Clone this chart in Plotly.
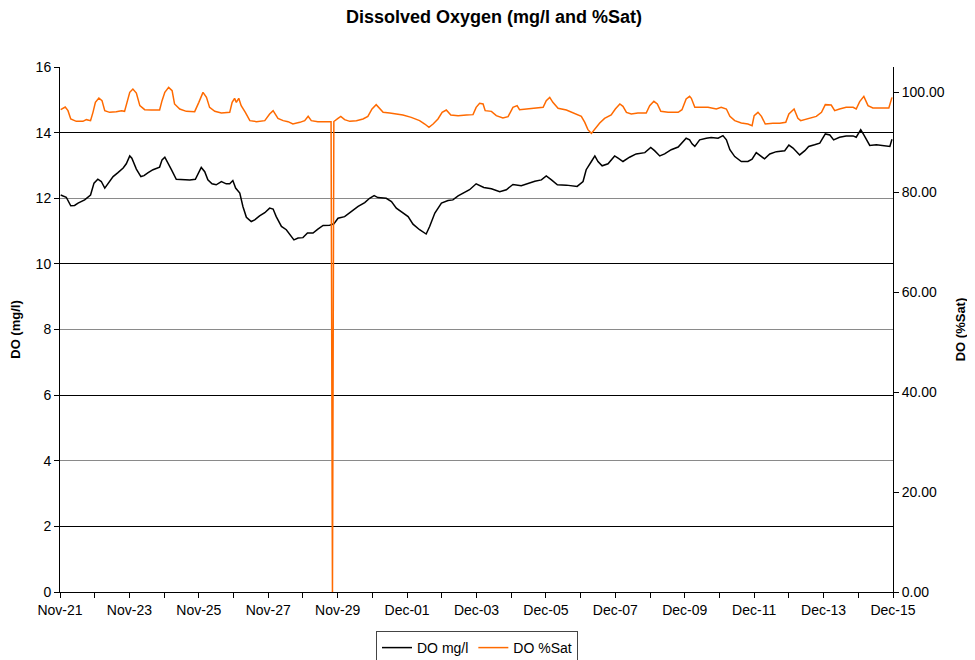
import pandas as pd
import plotly.graph_objects as go

start = pd.Timestamp("2010-11-21")

# DO mg/l : time in days since Nov-21, value
mg_days = [0.02, 0.18, 0.31, 0.42, 0.52, 0.71, 0.88, 0.98, 1.09, 1.19, 1.29, 1.38, 1.53, 1.67, 1.82, 1.91,
           2.01, 2.07, 2.20, 2.33, 2.42, 2.54, 2.68, 2.87, 2.94, 3.02, 3.11, 3.21, 3.35, 3.54, 3.74, 3.90,
           3.98, 4.07, 4.17, 4.26, 4.38, 4.50, 4.65, 4.79, 4.89, 4.98, 5.06, 5.18, 5.27, 5.37, 5.51, 5.61,
           5.75, 5.90, 6.04, 6.14, 6.23, 6.38, 6.52, 6.62, 6.74, 6.86, 7.00, 7.13, 7.29, 7.43, 7.58, 7.77,
           7.89, 8.01, 8.20, 8.39, 8.59, 8.78, 8.92, 9.05, 9.16, 9.40, 9.55, 9.69, 9.88, 10.03, 10.17, 10.36,
           10.55, 10.65, 10.80, 10.99, 11.18, 11.32, 11.47, 11.66, 11.80, 11.99, 12.21, 12.43, 12.67, 12.86,
           13.05, 13.29, 13.48, 13.68, 13.87, 14.01, 14.16, 14.33, 14.59, 14.90, 15.07, 15.16, 15.31, 15.41,
           15.50, 15.62, 15.79, 15.98, 16.08, 16.22, 16.41, 16.60, 16.85, 17.02, 17.13, 17.28, 17.42, 17.61,
           17.81, 17.92, 18.04, 18.14, 18.21, 18.29, 18.43, 18.62, 18.76, 18.96, 19.10, 19.20, 19.30, 19.44,
           19.63, 19.82, 19.94, 20.06, 20.16, 20.30, 20.45, 20.64, 20.88, 21.00, 21.12, 21.31, 21.46, 21.57,
           21.74, 21.89, 22.05, 22.18, 22.29, 22.46, 22.65, 22.85, 22.94, 23.07, 23.16, 23.33, 23.52, 23.71,
           23.91, 23.97]
mg_vals = [12.10, 12.03, 11.77, 11.78, 11.85, 11.95, 12.10, 12.46, 12.58, 12.51, 12.31, 12.44, 12.66, 12.78, 12.92, 13.05,
           13.29, 13.22, 12.89, 12.66, 12.69, 12.78, 12.87, 12.95, 13.17, 13.25, 13.09, 12.87, 12.58, 12.56, 12.56, 12.58,
           12.76, 12.94, 12.81, 12.56, 12.44, 12.41, 12.51, 12.44, 12.44, 12.54, 12.31, 12.16, 11.75, 11.42, 11.29, 11.34,
           11.46, 11.56, 11.70, 11.67, 11.44, 11.14, 11.04, 10.91, 10.73, 10.79, 10.80, 10.94, 10.94, 11.06, 11.17, 11.18,
           11.22, 11.39, 11.44, 11.59, 11.75, 11.87, 12.00, 12.08, 12.02, 12.00, 11.90, 11.70, 11.56, 11.44, 11.21, 11.04,
           10.91, 11.14, 11.55, 11.85, 11.93, 11.95, 12.07, 12.17, 12.26, 12.44, 12.33, 12.29, 12.20, 12.26,
           12.42, 12.38, 12.46, 12.52, 12.56, 12.68, 12.56, 12.41, 12.40, 12.36, 12.51, 12.87, 13.12, 13.29,
           13.12, 12.99, 13.05, 13.29, 13.22, 13.12, 13.25, 13.35, 13.39, 13.55, 13.45, 13.29, 13.35, 13.48,
           13.56, 13.68, 13.83, 13.78, 13.66, 13.58, 13.78, 13.83, 13.85, 13.83, 13.91, 13.78, 13.48, 13.27,
           13.12, 13.12, 13.19, 13.39, 13.32, 13.20, 13.35, 13.42, 13.45, 13.62, 13.53, 13.32, 13.45, 13.58,
           13.63, 13.68, 13.96, 13.93, 13.78, 13.86, 13.90, 13.90, 13.86, 14.09, 13.93, 13.61, 13.63, 13.60,
           13.58, 13.80]

# DO %Sat : time in days since Nov-21, value
sat_days = [0.02, 0.15, 0.23, 0.31, 0.47, 0.66, 0.76, 0.88, 0.95, 1.02, 1.12, 1.21, 1.29, 1.43, 1.62, 1.77,
            1.86, 1.94, 2.01, 2.10, 2.20, 2.30, 2.44, 2.63, 2.87, 2.94, 3.02, 3.13, 3.23, 3.30, 3.45, 3.64,
            3.88, 4.00, 4.12, 4.22, 4.31, 4.46, 4.65, 4.89, 4.96, 5.03, 5.08, 5.15, 5.22, 5.34, 5.47, 5.66,
            5.90, 6.04, 6.14, 6.28, 6.43, 6.57, 6.71, 6.91, 7.05, 7.15, 7.24, 7.43, 7.63, 7.81, 7.85, 7.89,
            8.01, 8.09, 8.20, 8.35, 8.54, 8.73, 8.87, 8.99, 9.11, 9.21, 9.31, 9.50, 9.69, 9.88, 10.12, 10.36,
            10.51, 10.63, 10.75, 10.89, 11.01, 11.13, 11.26, 11.47, 11.71, 11.90, 11.99, 12.09, 12.19, 12.25,
            12.43, 12.57, 12.76, 12.91, 13.05, 13.17, 13.24, 13.48, 13.72, 13.92, 14.01, 14.11, 14.20, 14.35,
            14.59, 14.83, 15.02, 15.12, 15.21, 15.31, 15.41, 15.55, 15.69, 15.88, 16.00, 16.13, 16.22, 16.32,
            16.46, 16.65, 16.89, 16.99, 17.11, 17.21, 17.31, 17.52, 17.81, 17.92, 18.04, 18.14, 18.19, 18.29,
            18.48, 18.67, 18.91, 19.05, 19.20, 19.30, 19.44, 19.63, 19.82, 19.94, 20.00, 20.11, 20.21, 20.32,
            20.54, 20.74, 20.91, 21.00, 21.15, 21.26, 21.34, 21.55, 21.79, 21.94, 22.05, 22.22, 22.32, 22.46,
            22.65, 22.85, 22.94, 23.04, 23.16, 23.28, 23.42, 23.66, 23.88, 23.97]
sat_vals = [96.47, 97.00, 96.27, 94.60, 94.13, 94.13, 94.47, 94.27, 95.93, 97.93, 98.80, 98.27, 96.27, 95.93, 96.07, 96.27,
            96.13, 97.93, 99.93, 100.60, 99.80, 97.27, 96.47, 96.40, 96.40, 98.27, 99.93, 100.93, 100.27, 97.60, 96.60, 96.13,
            96.07, 97.93, 99.93, 98.93, 96.93, 96.13, 95.80, 95.93, 97.93, 98.73, 97.93, 98.73, 97.27, 95.93, 94.27, 94.07,
            94.27, 95.60, 96.27, 94.73, 94.27, 94.07, 93.60, 93.93, 94.27, 95.13, 94.27, 94.07, 94.07, 94.07, 0.0, 94.10,
            94.73, 95.13, 94.47, 94.13, 94.27, 94.60, 95.13, 96.60, 97.47, 96.60, 95.93, 95.80, 95.60, 95.40, 94.93, 94.27,
            93.60, 92.93, 93.60, 94.60, 95.93, 96.40, 95.40, 95.27, 95.40, 95.47, 96.93, 97.73, 97.60, 96.27,
            96.13, 95.27, 94.80, 95.07, 96.93, 97.27, 96.47, 96.60, 96.80, 96.93, 98.27, 98.93, 97.93, 96.73,
            96.40, 95.73, 95.13, 93.93, 92.47, 91.73, 92.60, 93.80, 94.73, 95.40, 96.60, 97.60, 97.13, 95.93,
            95.60, 95.80, 95.80, 97.27, 98.13, 97.60, 96.13, 95.93, 95.93, 96.47, 98.60, 99.13, 98.73, 96.93,
            96.93, 96.93, 96.60, 96.93, 96.60, 95.13, 94.27, 93.80, 93.60, 93.27, 95.27, 95.93, 95.13, 93.60,
            93.73, 93.73, 93.93, 95.60, 96.60, 94.73, 94.27, 94.60, 95.13, 95.93, 97.47, 97.40, 96.27, 96.60,
            96.93, 96.93, 96.60, 98.07, 99.13, 97.27, 96.80, 96.80, 96.80, 98.93]

mg_x = start + pd.to_timedelta(mg_days, unit="D")
sat_x = start + pd.to_timedelta(sat_days, unit="D")
x_end = start + pd.Timedelta(days=24)

left_ticks = [0, 2, 4, 6, 8, 10, 12, 14, 16]
right_ticks = [0, 20, 40, 60, 80, 100]

FONT = "Liberation Sans, Arial, sans-serif"

fig = go.Figure()
fig.add_trace(go.Scatter(x=mg_x, y=mg_vals, mode="lines", name="DO mg/l",
                         line=dict(color="black", width=1.5), yaxis="y"))
fig.add_trace(go.Scatter(x=sat_x, y=sat_vals, mode="lines", name="DO %Sat",
                         line=dict(color="#FF6A00", width=1.5), yaxis="y2"))
# helper (invisible) trace so the dark-grid overlay axis is drawn
fig.add_trace(go.Scatter(x=mg_x, y=mg_vals, mode="lines", showlegend=False, hoverinfo="skip",
                         line=dict(color="rgba(0,0,0,0)", width=0), yaxis="y3"))

W, H = 967, 652
fig.update_layout(
    width=W, height=H,
    paper_bgcolor="white", plot_bgcolor="white",
    margin=dict(l=52, r=82, t=59, b=68),
    font=dict(family=FONT, size=14, color="black"),
    title=dict(text="<b>Dissolved Oxygen (mg/l and %Sat)</b>", x=0.5026, xanchor="center",
               y=1 - 9 / H, yanchor="middle", yref="container",
               font=dict(family=FONT, size=18, color="black")),
    xaxis=dict(type="date", range=[start, x_end], tick0=start, dtick=2 * 86400000,
               tickformat="%b-%d", ticks="outside", ticklen=5, tickcolor="black",
               showline=True, linecolor="black", linewidth=1, showgrid=False, zeroline=False,
               minor=dict(dtick=86400000, ticks="outside", ticklen=5, tickcolor="black", showgrid=False),
               tickfont=dict(size=14), automargin=False),
    yaxis=dict(range=[0, 16], tickvals=left_ticks, ticks="outside", ticklen=5, tickcolor="black",
               showline=True, linecolor="black", linewidth=1, showgrid=True, gridcolor="#8a8a8a",
               gridwidth=1, zeroline=False, automargin=False,
               title=dict(text="<b>DO (mg/l)</b>", font=dict(size=13), standoff=15),
               tickfont=dict(size=14)),
    yaxis3=dict(range=[0, 16], overlaying="y", anchor="x", side="left", tick0=2, dtick=4,
                showticklabels=False, ticks="", showline=False, showgrid=True,
                gridcolor="black", gridwidth=1, zeroline=False, automargin=False),
    yaxis2=dict(range=[0, 105], overlaying="y", anchor="x", side="right", tickvals=right_ticks,
                tickformat=".2f", ticks="outside", ticklen=5, tickcolor="black",
                showline=True, linecolor="black", linewidth=1, showgrid=False, zeroline=False,
                automargin=False,
                title=dict(text="<b>DO (%Sat)</b>", font=dict(size=13), standoff=12),
                tickfont=dict(size=14)),
    legend=dict(orientation="h", x=0.485, xanchor="center", xref="container",
                y=1 - 640 / H, yanchor="middle", yref="container",
                bordercolor="#444", borderwidth=1, font=dict(size=14), bgcolor="white",
                itemwidth=30, traceorder="normal"),
    showlegend=True,
)

fig.write_html("out.html")
